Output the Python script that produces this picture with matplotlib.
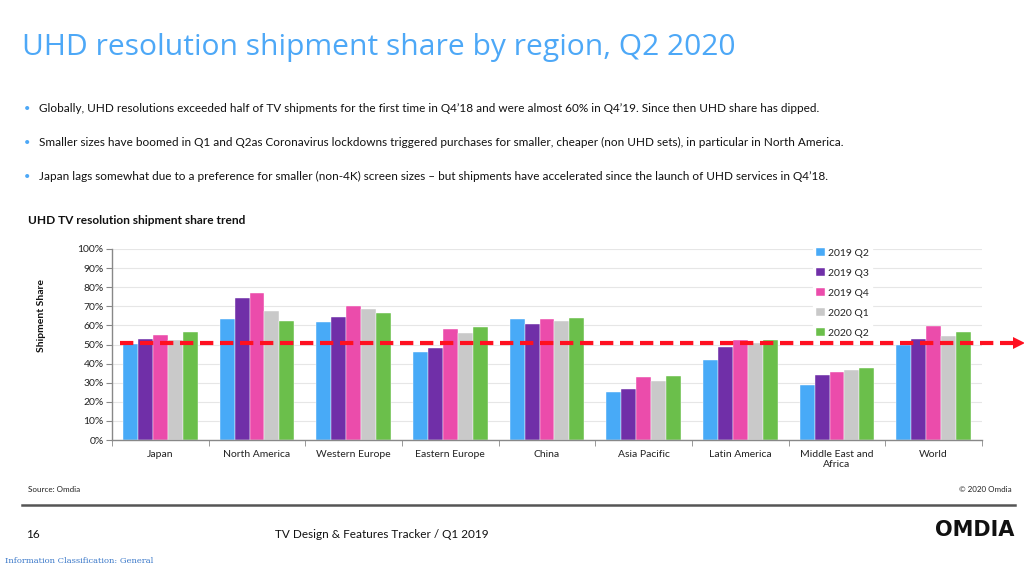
import numpy as np
import matplotlib
matplotlib.use("Agg")
import matplotlib.pyplot as plt

plt.rcParams['font.family'] = ['Lato', 'DejaVu Sans']

regions = ["Japan", "North America", "Western Europe", "Eastern Europe", "China",
           "Asia Pacific", "Latin America", "Middle East and\nAfrica", "World"]
quarters = ["2019 Q2", "2019 Q3", "2019 Q4", "2020 Q1", "2020 Q2"]

q2_2019 = [50.1, 63.5, 61.8, 46.2, 63.2, 25.1, 42.1, 29.0, 49.9]
q3_2019 = [52.7, 74.3, 64.2, 48.2, 60.6, 26.9, 48.9, 34.0, 53.1]
q4_2019 = [55.0, 76.8, 70.2, 58.1, 63.5, 32.8, 52.4, 35.4, 59.7]
q1_2020 = [52.2, 67.7, 68.6, 55.8, 62.3, 30.7, 51.0, 36.6, 54.6]
q2_2020 = [56.4, 62.3, 66.5, 59.0, 63.7, 33.5, 52.5, 37.5, 56.4]
series = [q2_2019, q3_2019, q4_2019, q1_2020, q2_2020]

threshold = 50.8  # the red "half of shipments" marker

colors = ["#48AAF7", "#702FA8", "#EB4CAB", "#C9C9C9", "#6BBF4B"]

bullets = [
    "Globally, UHD resolutions exceeded half of TV shipments for the first time in Q4\u201918 and were almost 60% in Q4\u201919. Since then UHD share has dipped.",
    "Smaller sizes have boomed in Q1 and Q2as Coronavirus lockdowns triggered purchases for smaller, cheaper (non UHD sets), in particular in North America.",
    "Japan lags somewhat due to a preference for smaller (non-4K) screen sizes \u2013 but shipments have accelerated since the launch of UHD services in Q4\u201918.",
]

fig = plt.figure(figsize=(10.24, 5.7), dpi=100)
fig.patch.set_facecolor("white")

def fx(px):
    return px / 1024

def fy(py):
    return 1 - py / 570

# slide text
fig.text(fx(22), fy(47), "UHD resolution shipment share by region, Q2 2020",
         fontsize=21.6, color="#4DA8F7", va="center", ha="left", family=["Open Sans", "DejaVu Sans"])
for i, b in enumerate(bullets):
    yy = fy(108 + 34 * i)
    fig.text(fx(24), yy, "\u2022", fontsize=8, color="#4DA8F7", va="center", ha="left")
    fig.text(fx(39), yy, b, fontsize=8.5, color="#111111", va="center", ha="left")

fig.text(fx(28), fy(221), "UHD TV resolution shipment share trend", fontsize=8.6,
         fontweight="bold", color="#111111", va="center", ha="left")

# chart
ax = fig.add_axes([fx(112), fy(440), fx(982) - fx(112), fy(249) - fy(440)])
x = np.arange(len(regions))
w = 0.155
for k, (vals, lab, c) in enumerate(zip(series, quarters, colors)):
    ax.bar(x + (k - 2) * w, vals, width=w, color=c, label=lab,
           edgecolor="white", linewidth=0.3, zorder=2)

ax.set_xlim(-0.5, len(regions) - 0.5)
ax.set_ylim(0, 100)
ax.set_yticks(np.arange(0, 101, 10))
ax.set_yticklabels([f"{v}%" for v in range(0, 101, 10)], fontsize=7.5, color="#222222")
ax.set_xticks(x)
ax.set_xticklabels(regions, fontsize=7.5, color="#222222")
ax.set_xticks(np.arange(-0.5, len(regions), 1), minor=True)
ax.tick_params(axis="x", which="major", length=0, pad=7)
ax.tick_params(axis="x", which="minor", length=4, color="#888888", direction="out")
ax.tick_params(axis="y", length=4, color="#888888", direction="out", pad=2)
ax.grid(axis="y", color="#E6E6E6", linewidth=0.8, zorder=0)
ax.set_axisbelow(True)
for s in ["top", "right"]:
    ax.spines[s].set_visible(False)
for s in ["left", "bottom"]:
    ax.spines[s].set_color("#888888")
    ax.spines[s].set_linewidth(1.0)

ax.set_ylabel("Shipment Share", fontsize=7.5, fontweight="bold", color="#111111")
ax.yaxis.set_label_coords(-0.076, 0.65)

leg = ax.legend(loc="upper left", bbox_to_anchor=(0.806, 1.02), frameon=True,
                fontsize=7.5, handlelength=0.8, handleheight=0.8, handletextpad=0.3,
                labelspacing=1.0, borderpad=0.3, borderaxespad=0)
leg.get_frame().set_edgecolor("white")
leg.get_frame().set_facecolor("white")
leg.get_frame().set_alpha(1)
leg.set_zorder(3)
for t in leg.get_texts():
    t.set_color("#222222")

# red dashed 50% marker with arrow head, running past the plot area
ax.plot([-0.42, 8.84], [threshold, threshold], color="#FF1020", linewidth=3,
        linestyle=(0, (3.2, 1.6)), clip_on=False, zorder=5, dash_capstyle="butt")
ax.plot([8.88], [threshold], marker=">", markersize=9, color="#FF1020",
        clip_on=False, zorder=5, markeredgewidth=0)

# footer
fig.text(fx(28), fy(490), "Source: Omdia", fontsize=5.8, color="#222222", va="center")
fig.text(fx(1012), fy(490), "\u00a9 2020 Omdia", fontsize=5.8, color="#222222", va="center", ha="right")
fig.add_artist(plt.Line2D([fx(22), fx(1015)], [fy(505), fy(505)], color="#555555", linewidth=1.8))
fig.text(fx(26), fy(535), "16", fontsize=8.5, color="#111111", va="center")
fig.text(fx(275), fy(535), "TV Design & Features Tracker / Q1 2019", fontsize=8.5,
         color="#111111", va="center")
fig.text(fx(1014), fy(530), "OMDIA", fontsize=15, fontweight="heavy", color="#111111",
         va="center", ha="right", family=["DejaVu Sans"])
fig.text(fx(5), fy(561), "Information Classification: General", fontsize=6,
         color="#3A78C9", va="center", family=["DejaVu Serif"])

fig.savefig("out.png", dpi=100, facecolor="white")
